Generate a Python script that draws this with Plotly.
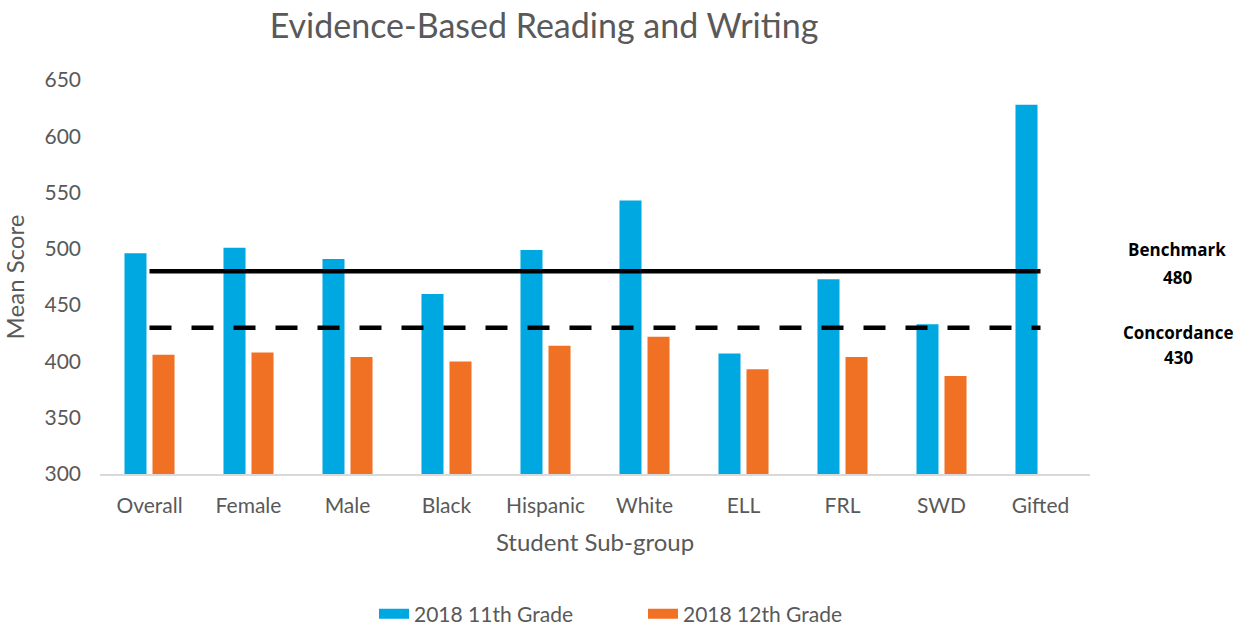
import plotly.graph_objects as go

categories = ["Overall", "Female", "Male", "Black", "Hispanic", "White", "ELL", "FRL", "SWD", "Gifted"]
grade11 = [496, 501, 491, 460, 499, 543, 407, 473, 433, 628]
grade12 = [406, 408, 404, 400, 414, 422, 393, 404, 387, None]
benchmark = 480
concordance = 430

gray = "#595959"
blue = "#00A8E2"
orange = "#F07124"
font_family = "Lato, 'Open Sans', sans-serif"

fig = go.Figure()
fig.add_trace(go.Bar(x=categories, y=grade11, name="2018 11th Grade", marker_color=blue,
                     marker_line_width=0, showlegend=False, legendgroup="g11"))
fig.add_trace(go.Bar(x=categories, y=grade12, name="2018 12th Grade", marker_color=orange,
                     marker_line_width=0, showlegend=False, legendgroup="g12"))
fig.add_trace(go.Scatter(x=[categories[0], categories[-1]], y=[benchmark, benchmark], mode="lines",
                         line=dict(color="black", width=4.5), showlegend=False, hoverinfo="skip"))
fig.add_trace(go.Scatter(x=[categories[0], categories[-1]], y=[concordance, concordance], mode="lines",
                         line=dict(color="black", width=4.5, dash="22px,20px"), showlegend=False,
                         hoverinfo="skip"))
# legend entries drawn as wide swatches
fig.add_trace(go.Scatter(x=[None], y=[None], mode="lines", name="2018 11th Grade",
                         line=dict(color=blue, width=14), legendgroup="g11"))
fig.add_trace(go.Scatter(x=[None], y=[None], mode="lines", name="2018 12th Grade",
                         line=dict(color=orange, width=14), legendgroup="g12"))

fig.update_layout(
    width=1246, height=627,
    paper_bgcolor="white", plot_bgcolor="white",
    margin=dict(l=100, r=156, t=80, b=153, autoexpand=False),
    barmode="group", bargap=0.434, bargroupgap=0.214,
    font=dict(family=font_family, color=gray, size=21),
    title=dict(text="Evidence-Based Reading and Writing", x=544/1246, xanchor="center",
               xref="container", y=1 - 26/627, yanchor="middle", yref="container",
               font=dict(size=34, color=gray, family=font_family)),
    xaxis=dict(showline=True, linecolor="#D9D9D9", linewidth=1.5, ticks="", showgrid=False,
               automargin=False,
               tickfont=dict(size=21, color=gray), ticklabelstandoff=12,
               title=dict(text="Student Sub-group", font=dict(size=24, color=gray), standoff=18)),
    yaxis=dict(range=[300, 650], dtick=50, showgrid=False, zeroline=False, showline=False,
               automargin=False,
               tickfont=dict(size=21, color=gray), ticks="", ticklabelstandoff=18,
               title=dict(text="Mean Score", font=dict(size=24, color=gray), standoff=14)),
    legend=dict(orientation="h", x=374/1246, xanchor="left", xref="container",
                y=1 - 614/627, yanchor="middle", yref="container",
                entrywidth=224, entrywidthmode="pixels",
                font=dict(size=21, color=gray), traceorder="normal"),
)

annots = [("Benchmark", 1177, 250), ("480", 1177, 277), ("Concordance", 1178, 332), ("430", 1178, 357)]
pw = 1246 - 100 - 156
ph = 627 - 80 - 153
for txt, px, py in annots:
    fig.add_annotation(text=f"<b>{txt}</b>", x=(px - 100) / pw, y=(627 - 153 - py) / ph,
                       xref="paper", yref="paper", showarrow=False,
                       font=dict(size=17, color="black", family="'Open Sans', sans-serif"),
                       xanchor="center", yanchor="middle")

fig.write_html("out.html")
